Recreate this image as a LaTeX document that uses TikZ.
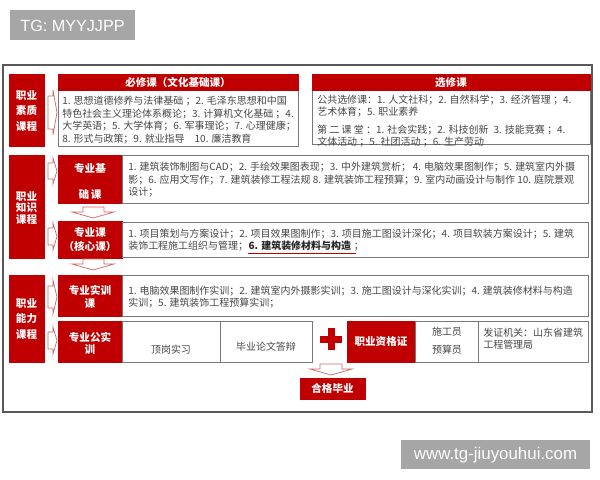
\documentclass[tikz,border=0pt]{standalone}
\usepackage{fontspec}
\setmainfont{Noto Sans CJK SC}
\newfontfamily\wmfont{Liberation Sans}
\definecolor{jred}{RGB}{192,0,0}
\definecolor{jgray}{RGB}{70,70,70}
\definecolor{jline}{RGB}{120,120,120}
\definecolor{jarrow}{RGB}{205,105,105}
\definecolor{wmgray}{RGB}{166,166,166}
\tikzset{
  redbox/.style={fill=jred,draw=jred},
  txtbox/.style={fill=white,draw=jline,line width=0.6pt},
  frame/.style={draw=black!65,line width=0.8pt},
  redlabel/.style={text=white,font=\bfseries\fontsize{7.5}{11.3}\selectfont,align=center,inner sep=0pt},
  bodytext/.style={text=jgray,font=\fontsize{7.1}{8.86}\selectfont,align=left,inner sep=0pt,anchor=north west},
  hollow/.style={draw=jarrow,fill=white,line width=0.5pt},
  wmbox/.style={fill=wmgray,draw=none},
  wmtext/.style={text=white,font=\wmfont\fontsize{11.5}{12}\selectfont,inner sep=0pt}
}
\begin{document}
\begin{tikzpicture}[x=0.025cm,y=-0.025cm]
  \useasboundingbox (0,0) rectangle (600,480);

  %%%%%%%%%%%Watermarks%%%%%%%%%%%
  \filldraw[wmbox] (10,10) rectangle (135,40);
  \node[wmtext] (wmtop) at (72.5,25.5) {TG: MYYJJPP};
  \filldraw[wmbox] (401,440) rectangle (590,469);
  \node[wmtext,font=\wmfont\fontsize{12}{12}\selectfont] (wmbottom) at (495.5,455) {www.tg-jiuyouhui.com};

  %%%%%%%%%%%Outer frame%%%%%%%%%%%
  \draw[frame] (3,65) rectangle (592,412);

  %%%%%%%%%%%Row 1: quality courses%%%%%%%%%%%
  \filldraw[redbox] (9,74) rectangle (44,146);
  \node[redlabel] (suzhi) at (26.5,111) {职业\\素质\\课程};
  \draw[hollow] (48,96) -- (53,96) -- (53,90) -- (57,112.5) -- (53,135) -- (53,129) -- (48,129) -- cycle;

  \draw[txtbox] (58,90) rectangle (298,146);
  \filldraw[redbox] (58,74) rectangle (298,90);
  \node[redlabel] (reqhead) at (178,82.5) {必修课（文化基础课）};
  \node[bodytext] (reqbody) at (62,96) {1. 思想道德修养与法律基础 ；2. 毛泽东思想和中国\\特色社会主义理论体系概论；3. 计算机文化基础 ；4.\\大学英语；5. 大学体育；6. 军事理论；7. 心理健康；\\8. 形式与政策；9. 就业指导\quad 10. 廉洁教育};

  \draw[txtbox] (312,90) rectangle (590,144);
  \filldraw[redbox] (312,74) rectangle (590,90);
  \node[redlabel] (elehead) at (451,82.5) {选修课};
  \node[bodytext] (elebody) at (317,94.5) {公共选修课：1. 人文社科；2. 自然科学；3. 经济管理 ；4.\\艺术体育；5. 职业素养\\[3.5pt]第 二 课 堂 ：1. 社会实践；2. 科技创新\enspace 3. 技能竞赛 ；4.\\文体活动 ；5. 社团活动 ；6. 生产劳动};

  %%%%%%%%%%%Row 2: knowledge courses%%%%%%%%%%%
  \filldraw[redbox] (9,155) rectangle (44,258);
  \node[redlabel,font=\bfseries\fontsize{7.5}{8.3}\selectfont] (zhishi) at (26.5,208) {职业\\知识\\课程};
  \draw[hollow] (48,163) -- (53,163) -- (53,158) -- (57,171) -- (53,184) -- (53,179) -- (48,179) -- cycle;
  \draw[hollow] (48,228) -- (53,228) -- (53,223) -- (57,236.5) -- (53,250) -- (53,245) -- (48,245) -- cycle;

  \filldraw[redbox] (58,155) rectangle (122,203);
  \node[redlabel,font=\bfseries\fontsize{7.5}{19}\selectfont] (basis) at (90,181.5) {专业基\\础\,课};
  \draw[txtbox] (122,155) rectangle (588,203);
  \node[bodytext] (basistext) at (128,162) {1. 建筑装饰制图与CAD；2. 手绘效果图表现；3. 中外建筑赏析；\,4. 电脑效果图制作；5. 建筑室内外摄\\影；6. 应用文写作；7. 建筑装修工程法规 8. 建筑装饰工程预算；9. 室内动画设计与制作 10. 庭院景观\\设计；};
  \draw[hollow] (83,207) -- (104,207) -- (104,212) -- (114,212) -- (93,218) -- (72,212) -- (83,212) -- cycle;

  \filldraw[redbox] (58,221) rectangle (122,258);
  \node[redlabel,font=\bfseries\fontsize{7.5}{10.6}\selectfont] (core) at (90,239.5) {专业课\\（核心课）};
  \draw[txtbox] (122,222) rectangle (588,257);
  \node[bodytext] (core1) at (128,228.5) {1. 项目策划与方案设计；2. 项目效果图制作；3. 项目施工图设计深化；4. 项目软装方案设计；5. 建筑};
  \node[bodytext,anchor=base west] (core2a) at ([yshift=-8.86pt]core1.base west) {装饰工程施工组织与管理；};
  \node[bodytext,anchor=base west,text=black!85,font=\bfseries\fontsize{7.1}{8.86}\selectfont] (core2b) at (core2a.base east) {6. 建筑装修材料与构造};
  \node[bodytext,anchor=base west] (core2c) at (core2b.base east) {\ ；};
  \draw[jred,line width=1pt] ([yshift=-1.8pt]core2b.south west) -- ([xshift=3pt,yshift=-1.8pt]core2b.south east);
  \draw[hollow] (83,259) -- (104,259) -- (104,264) -- (114,264) -- (93,270) -- (72,264) -- (83,264) -- cycle;

  %%%%%%%%%%%Row 3: ability courses%%%%%%%%%%%
  \filldraw[redbox] (9,275) rectangle (44,362);
  \node[redlabel] (nengli) at (26.5,319) {职业\\能力\\课程};
  \draw[hollow] (48,286) -- (53,286) -- (53,280) -- (57,297) -- (53,314) -- (53,308) -- (48,308) -- cycle;
  \draw[hollow] (48,332) -- (53,332) -- (53,327) -- (57,340.5) -- (53,354) -- (53,349) -- (48,349) -- cycle;

  \filldraw[redbox] (58,275) rectangle (122,316);
  \node[redlabel,font=\bfseries\fontsize{7.5}{9.2}\selectfont] (train) at (90,296.5) {专业实训\\课};
  \draw[txtbox] (122,275) rectangle (588,316);
  \node[bodytext] (traintext) at (128,285.5) {1. 电脑效果图制作实训；2. 建筑室内外摄影实训；3. 施工图设计与深化实训；4. 建筑装修材料与构造\\实训；5. 建筑装饰工程预算实训；};

  \filldraw[redbox] (58,321) rectangle (122,362);
  \node[redlabel,font=\bfseries\fontsize{7.5}{8.6}\selectfont] (practice) at (90,343) {专业公实\\训};
  \draw[txtbox] (122,321) rectangle (220,362);
  \node[bodytext,anchor=center] (intern) at (171,350) {顶岗实习};
  \draw[txtbox] (220,321) rectangle (312,362);
  \node[bodytext,anchor=center] (thesis) at (266,347) {毕业论文答辩};

  %%%%%%%%%%%Plus sign%%%%%%%%%%%
  \fill[jred] (320,336) rectangle (342,343);
  \fill[jred] (327.5,328) rectangle (334.5,350);

  %%%%%%%%%%%Certificate%%%%%%%%%%%
  \filldraw[redbox] (347,321) rectangle (415,362);
  \node[redlabel] (cert) at (381,341) {职业资格证};
  \draw[txtbox] (415,321) rectangle (478,362);
  \node[bodytext,anchor=center,align=center,font=\fontsize{7.1}{12.7}\selectfont] (certjobs) at (447,341) {施工员\\预算员};
  \draw[txtbox] (478,321) rectangle (588,362);
  \node[bodytext] (certorg) at (483,327.5) {发证机关：山东省建筑\\工程管理局};

  %%%%%%%%%%%Graduation%%%%%%%%%%%
  \draw[hollow] (320,364) -- (342,364) -- (342,369) -- (352,369) -- (331,375) -- (310,369) -- (320,369) -- cycle;
  \filldraw[redbox] (300,378) rectangle (365,399);
  \node[redlabel] (grad) at (332.5,388.5) {合格毕业};
\end{tikzpicture}
\end{document}
